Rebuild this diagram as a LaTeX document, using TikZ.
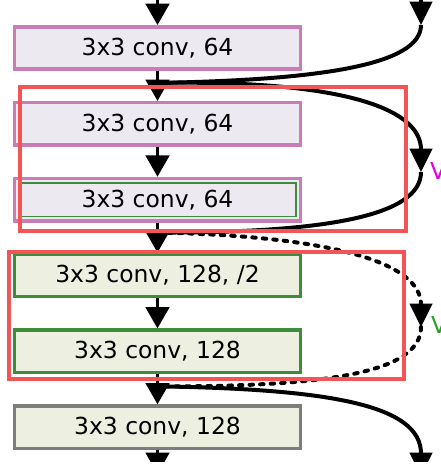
\documentclass[tikz,border=0pt]{standalone}
\usepackage{fontspec}
\setmainfont{DejaVu Sans}
\usepackage{xcolor}
\usetikzlibrary{arrows.meta,positioning,calc}

\definecolor{boxpink}{RGB}{200,125,185}
\definecolor{fillpink}{RGB}{236,233,241}
\definecolor{boxgreen}{RGB}{60,140,60}
\definecolor{fillgreen}{RGB}{237,240,224}
\definecolor{boxgray}{RGB}{125,125,125}
\definecolor{hlred}{RGB}{242,85,85}
\definecolor{lblmag}{RGB}{225,0,225}
\definecolor{lblgreen}{RGB}{40,160,40}

\begin{document}
\begin{tikzpicture}[
        x=0.03cm, y=-0.03cm,
        font=\fontsize{20}{24}\selectfont,
        conv/.style={rectangle, line width=3pt, minimum width=8.58cm,
                     minimum height=1.27cm, inner sep=0pt},
        convA/.style={conv, draw=boxpink, fill=fillpink},
        convB/.style={conv, draw=boxgreen, fill=fillgreen},
        convC/.style={conv, draw=boxgray, fill=fillgreen},
        arr/.style={-{Triangle[length=0.64cm,width=0.7cm]}, line width=3.2pt, black},
        skipline/.style={line width=3.4pt, black},
        skiparr/.style={skipline, -{Triangle[length=0.7cm,width=0.66cm]}},
        skipdot/.style={dash pattern=on 3pt off 6pt, line cap=round},
        hl/.style={draw=hlred, line width=3.6pt},
        lbl/.style={inner sep=0pt, anchor=base west}
    ]
        %--- Page ---
        \useasboundingbox[fill=white] (0,0) rectangle (441,466);
        \clip (0,0) rectangle (441,461);

        %--- Conv boxes ---
        \node[convA] (c1) at (157.5,48) {3x3 conv, 64};
        \node[convA, below=0.9cm of c1] (c2) {3x3 conv, 64};
        \node[convA, below=0.9cm of c2] (c3) {3x3 conv, 64};
        \node[convB, below=0.9cm of c3] (c4) {3x3 conv, 128, /2};
        \node[convB, below=0.9cm of c4] (c5) {3x3 conv, 128};
        \node[convC, below=0.9cm of c5] (c6) {3x3 conv, 128};
        \draw[boxgreen, line width=1.3pt]
            ([shift={(0.21cm,-0.19cm)}]c3.north west) rectangle ([shift={(-0.19cm,0.19cm)}]c3.south east);

        %--- Junctions and free ends ---
        \coordinate (in) at (157.5,-10);
        \coordinate (out) at (157.5,474);
        \coordinate (j1) at ($(c1.south)!0.4!(c2.north)$);
        \coordinate (j2) at ($(c3.south)!0.33!(c4.north)$);
        \coordinate (j3) at ($(c5.south)!0.4!(c6.north)$);
        \coordinate (t0) at (421,-10);
        \coordinate (t1) at (421,25);
        \coordinate (m1) at (421,172);
        \coordinate (m2) at (421,327);
        \coordinate (b0) at (421,476);

        %--- Main path ---
        \draw[arr] (in) -- (c1);
        \draw[arr] (c1) -- (c2);
        \draw[arr] (c2) -- (c3);
        \draw[arr] (c3) -- (c4);
        \draw[arr] (c4) -- (c5);
        \draw[arr] (c5) -- (c6);
        \draw[arr] (c6) -- (out);

        %--- Shortcuts ---
        \draw[skiparr] (t0) -- (t1);
        \draw[skipline] (t1) .. controls (421,65) and (320,80) .. (j1);
        \draw[skiparr] (j1) .. controls (330,80) and (421,105) .. (m1);
        \draw[skipline] (m1) .. controls (421,215) and (330,233) .. (j2);
        \draw[skiparr, skipdot] (j2) .. controls (330,236) and (421,262) .. (m2);
        \draw[skipline, skipdot] (m2) .. controls (421,372) and (330,387) .. (j3);
        \draw[skiparr] (j3) .. controls (330,389) and (421,405) .. (b0);

        %--- Highlight frames ---
        \draw[hl] (19.7,86.7) rectangle (406.3,231.3);
        \draw[hl] (8.7,251.7) rectangle (404.3,379.3);

        %--- Cut labels ---
        \node[lbl, text=lblmag] (vmag) at (430,179) {V};
        \node[lbl, text=lblgreen] (vgrn) at (431,333) {V};
    \end{tikzpicture}
\end{document}
